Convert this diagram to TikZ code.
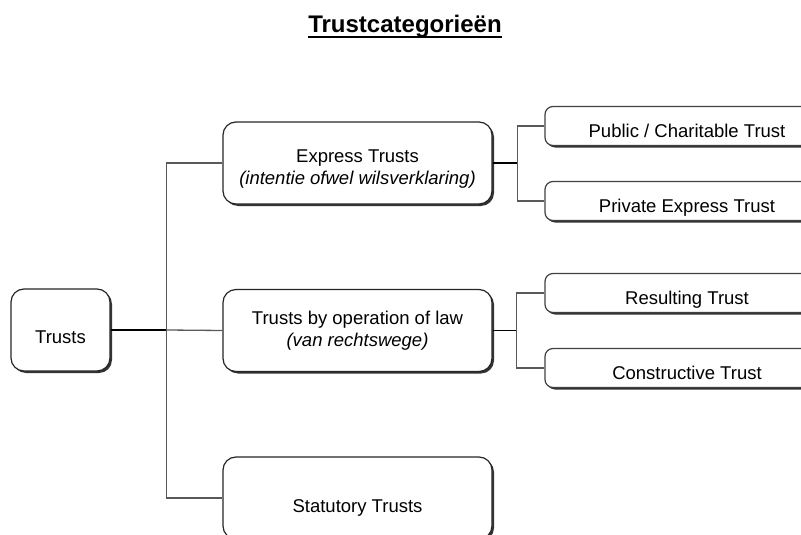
\documentclass[tikz,border=0pt]{standalone}
\usepackage{fontspec}
\setmainfont{Liberation Sans}
\usetikzlibrary{shadows}

\tikzset{
  boxshadow/.style={drop shadow={shadow xshift=2pt,shadow yshift=-2pt,fill=black!80,opacity=1}},
  rootbox/.style={draw=black!85,line width=1.2pt,fill=white,rounded corners=13pt,
    minimum width=99pt,minimum height=82pt,text height=26pt,text depth=0pt,boxshadow},
  bigbox/.style={draw=black!85,line width=1.2pt,fill=white,rounded corners=13pt,
    minimum width=269pt,minimum height=82pt,align=center,boxshadow},
  smallbox/.style={draw=black!75,line width=1.2pt,fill=white,rounded corners=8pt,
    minimum width=284pt,minimum height=39pt,text height=22pt,text depth=0pt,boxshadow},
  rootline/.style={draw=black,line width=1.8pt},
  branchline/.style={draw=black!65,line width=1.3pt}
}

\begin{document}
\begin{tikzpicture}[x=1pt,y=-1pt,font=\fontsize{18.5}{22}\selectfont]

        \useasboundingbox (0,0) rectangle (801,535);
        \clip (0,0) rectangle (801,535);

        % title
        \node[inner sep=0,anchor=base,font=\fontsize{24}{28}\selectfont\bfseries]
          (title) at (405,33) {Trustcategorieën};
        \draw[line width=2pt] ([yshift=-4pt]title.base west) -- ([yshift=-4pt]title.base east);

        \node[rootbox] (trusts) at (60.5,330) {Trusts};

        \node[bigbox,text height=42pt,text depth=0pt] (express) at (357.5,163)
          {Express Trusts\\\itshape (intentie ofwel wilsverklaring)};
        \node[bigbox] (law) at (357.5,330.5) {Trusts by operation of law\\\itshape (van rechtswege)};
        \node[bigbox,text height=28pt,text depth=0pt] (statutory) at (357.5,498) {Statutory Trusts};

        \begin{scope}[every node/.style={smallbox}]
          \node (public)       at (687,126) {Public / Charitable Trust};
          \node (private)      at (687,201) {Private Express Trust};
          \node (resulting)    at (687,293) {Resulting Trust};
          \node (constructive) at (687,368) {Constructive Trust};
        \end{scope}

        % connectors
        \draw[rootline] (trusts.east) -- ++(56,0) coordinate (trunk);
        \draw[branchline] (trunk) |- (express.west);
        \draw[branchline] (trunk) -- (law.west);
        \draw[branchline] (trunk) |- (statutory.west);

        \draw[rootline] (express.east) -- ++(25,0) coordinate (expfork);
        \draw[branchline] (expfork) |- (public.west);
        \draw[branchline] (expfork) |- (private.west);

        \draw[rootline] (law.east) -- ++(24,0) coordinate (lawfork);
        \draw[branchline] (lawfork) |- (resulting.west);
        \draw[branchline] (lawfork) |- (constructive.west);

      \end{tikzpicture}
\end{document}
